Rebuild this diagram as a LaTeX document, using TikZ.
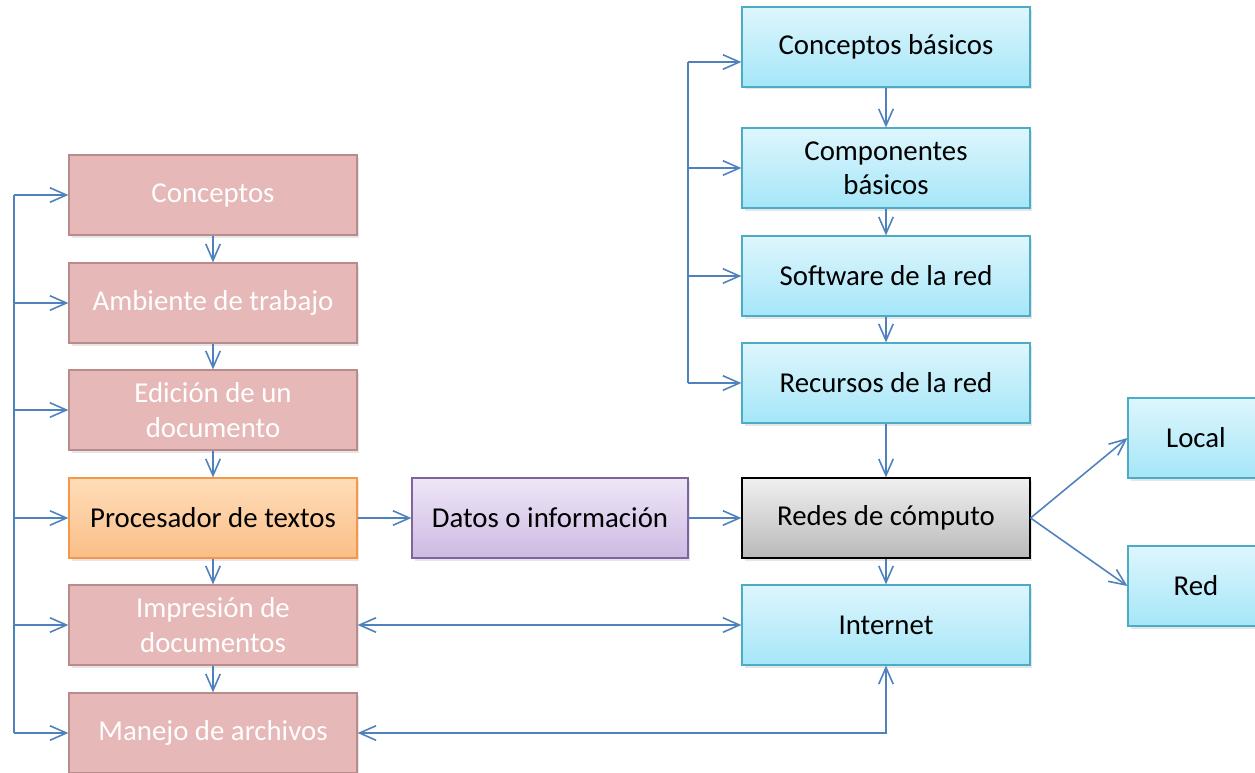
\documentclass[tikz,border=0pt]{standalone}
\usepackage{fontspec}
\setmainfont{Carlito}
\usetikzlibrary{arrows.meta,shadows}

\definecolor{linkc}{RGB}{79,129,189}
\definecolor{pinkf}{RGB}{230,184,183}
\definecolor{pinkd}{RGB}{185,140,139}
\definecolor{orangeD}{RGB}{247,150,70}
\definecolor{purpD}{RGB}{128,100,162}
\definecolor{cyanD}{RGB}{75,172,198}

\tikzset{
  box/.style={rectangle,minimum width=5.76cm,minimum height=1.6cm,align=center,inner sep=2pt,
    font=\fontsize{16.4}{19.5}\selectfont,line width=0.7pt,
    drop shadow={opacity=0.2,shadow xshift=0.05cm,shadow yshift=-0.05cm}},
  pinkbox/.style={box,fill=pinkf,draw=pinkd,text=white},
  cyanbox/.style={box,draw=cyanD,top color={rgb,255:red,222;green,246;blue,253},bottom color={rgb,255:red,165;green,230;blue,248}},
  barb/.tip={Straight Barb[length=0.33cm,width=0.29cm]},
  link/.style={draw=linkc,line width=0.9pt,-barb},
  dlink/.style={draw=linkc,line width=0.9pt,barb-barb},
}

\begin{document}
\begin{tikzpicture}[x=0.02cm,y=-0.02cm]
  \useasboundingbox (0,0) rectangle (1255,772);

  % left column
  \node[pinkbox] (conc) at (213,195) {Conceptos};
  \node[pinkbox] (amb) at (213,303) {Ambiente de trabajo};
  \node[pinkbox] (edic) at (213,410) {Edición de un\\documento};
  \node[box,draw=orangeD,top color={rgb,255:red,255;green,221;blue,185},bottom color={rgb,255:red,250;green,190;blue,135}] (proc) at (213,518) {Procesador de textos};
  \node[pinkbox] (impr) at (213,625) {Impresión de\\documentos};
  \node[pinkbox] (manejo) at (213,733) {Manejo de archivos};

  \node[box,minimum width=5.52cm,draw=purpD,top color={rgb,255:red,238;green,230;blue,247},bottom color={rgb,255:red,205;green,186;blue,226}] (datos) at (550,518) {Datos o información};

  % right column
  \node[cyanbox] (cbas) at (886,47) {Conceptos básicos};
  \node[cyanbox] (comp) at (886,168) {Componentes\\básicos};
  \node[cyanbox] (soft) at (886,276) {Software de la red};
  \node[cyanbox] (recu) at (886,383) {Recursos de la red};
  \node[box,draw=black,top color={rgb,255:red,240;green,240;blue,240},bottom color={rgb,255:red,185;green,185;blue,185}] (redes) at (886,518) {Redes de cómputo};
  \node[cyanbox] (inet) at (886,625) {Internet};

  \node[cyanbox,minimum width=2.72cm] (local) at (1196,438) {Local};
  \node[cyanbox,minimum width=2.72cm] (red) at (1196,586) {Red};

  \coordinate (lt) at (14,195);
  \coordinate (lb) at (14,733);
  \coordinate (rt) at (688,62);
  \coordinate (rb) at (688,383);

  \draw[link,-] (lt) -- (lb);
  \foreach \n in {conc,amb,edic,proc,impr,manejo}
    \draw[link] (\n.west -| lt) -- (\n.west);
  \draw[link,-] (rt) -- (rb);
  \draw[link] (rt) -- (rt -| cbas.west);
  \foreach \n in {comp,soft,recu}
    \draw[link] (\n.west -| rt) -- (\n.west);

  \draw[link] (conc) -- (amb);
  \draw[link] (amb) -- (edic);
  \draw[link] (edic) -- (proc);
  \draw[link] (proc) -- (impr);
  \draw[link] (impr) -- (manejo);
  \draw[link] (cbas) -- (comp);
  \draw[link] (comp) -- (soft);
  \draw[link] (soft) -- (recu);
  \draw[link] (recu) -- (redes);
  \draw[link] (redes) -- (inet);
  \draw[link] (proc) -- (datos);
  \draw[link] (datos) -- (redes);
  \draw[link] (redes.east) -- (local.west);
  \draw[link] (redes.east) -- (red.west);
  \draw[dlink] (impr) -- (inet);
  \draw[dlink] (manejo.east) -| (inet.south);
\end{tikzpicture}
\end{document}
